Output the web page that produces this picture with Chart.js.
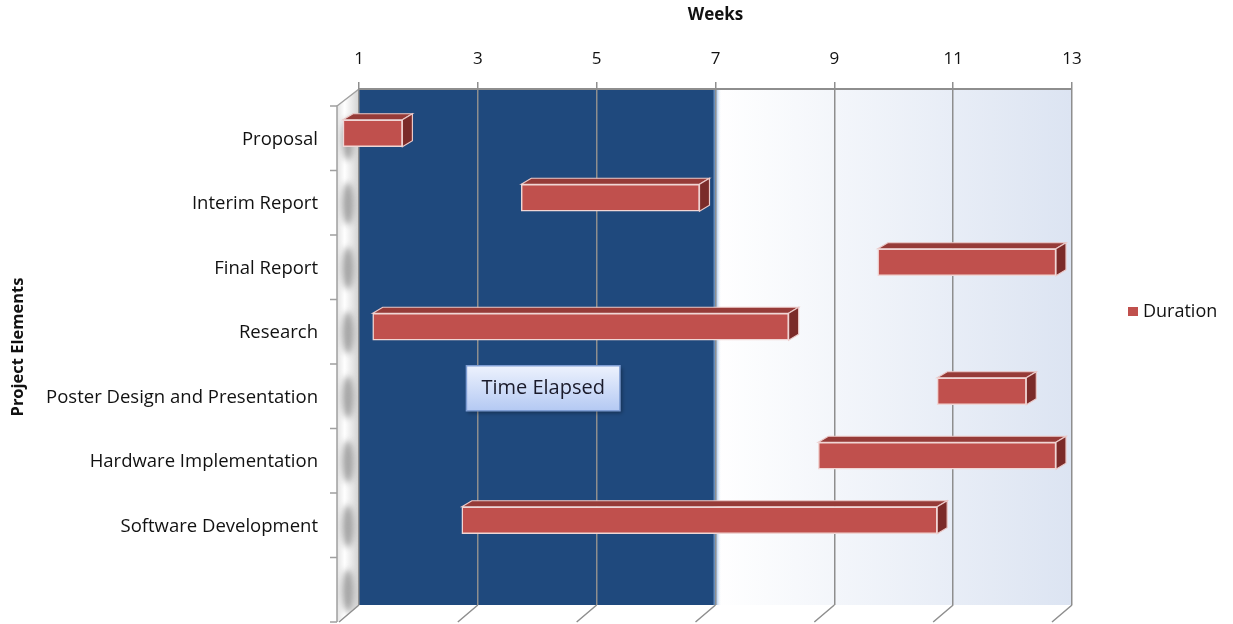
<!DOCTYPE html>
<html lang="en">
<head>
<meta charset="UTF-8">
<title>Project Schedule</title>
<style>
    * { margin: 0; padding: 0; box-sizing: border-box; }
    body { background: #fff; }
    #wrap { position: relative; width: 1233px; height: 624px; }
</style>
</head>
<body>
<div id="wrap"><canvas id="gantt"></canvas></div>

<script src="https://cdn.jsdelivr.net/npm/chart.js@4.4.0/dist/chart.umd.min.js"></script>
<script>
// data (weeks); last row of the axis is empty
const tasks = ['Proposal', 'Interim Report', 'Final Report', 'Research',
               'Poster Design and Presentation', 'Hardware Implementation', 'Software Development', ''];
const startWeek = [1, 4, 10, 1.5, 11, 9, 3];
const endWeek   = [2, 7, 13, 8.5, 12.5, 13, 11];
const weekTicks = [1, 3, 5, 7, 9, 11, 13];
const elapsedUntil = 7;
const seriesName = 'Duration';
const noteText = 'Time Elapsed';
const notePos = { week: 4.1, row: 4 };

const FONT = "'Open Sans', Lato, sans-serif";
const TEXT = '#111';
const GRID = '#8E8E8E';
const FRONT = { x: -22, y: 17 };   // front plane of the 3d box
const SHIFT = { x: -16, y: 12 };   // bars sit in front of the back wall
const DEPTH = { x: 10, y: -6 };    // bar thickness

Chart.defaults.font.family = FONT;
Chart.defaults.color = TEXT;

// back wall, left wall and floor
const backdrop = {
    id: 'backdrop',
    beforeDraw(chart) {
        const { ctx, chartArea: a, scales: { x, y } } = chart;
        const xe = x.getPixelForValue(elapsedUntil);
        const h = a.bottom - a.top;
        ctx.save();

        // elapsed part
        ctx.fillStyle = '#1F497D';
        ctx.fillRect(a.left, a.top, xe - a.left, h);
        // remaining part
        const g = ctx.createLinearGradient(xe, 0, a.right, 0);
        g.addColorStop(0, '#FFFFFF');
        g.addColorStop(1, '#DCE4F2');
        ctx.fillStyle = g;
        ctx.fillRect(xe, a.top, a.right - xe, h);
        // soft edge
        const gl = ctx.createLinearGradient(xe - 3, 0, xe + 6, 0);
        gl.addColorStop(0, 'rgba(31,73,125,1)');
        gl.addColorStop(0.35, '#8DB3E2');
        gl.addColorStop(1, 'rgba(255,255,255,0)');
        ctx.fillStyle = gl;
        ctx.fillRect(xe - 3, a.top, 9, h);

        // left wall
        const fx = a.left + FRONT.x;
        ctx.beginPath();
        ctx.moveTo(a.left, a.top);
        ctx.lineTo(a.left, a.bottom);
        ctx.lineTo(fx, a.bottom + FRONT.y);
        ctx.lineTo(fx, a.top + FRONT.y);
        ctx.closePath();
        const gw = ctx.createLinearGradient(fx, 0, a.left, 0);
        gw.addColorStop(0, '#E4E4E4');
        gw.addColorStop(0.35, '#FFFFFF');
        gw.addColorStop(1, '#D2D2D2');
        ctx.fillStyle = gw;
        ctx.fill();
        ctx.save();
        ctx.clip();
        ctx.filter = 'blur(3px)';
        ctx.fillStyle = '#A4A4A4';
        for (let i = 0; i < tasks.length; i++) {
            const cy = y.getPixelForValue(i) + FRONT.y + 1;
            ctx.beginPath();
            ctx.ellipse(a.left - 11, cy, 6, 21, 0, 0, Math.PI * 2);
            ctx.fill();
        }
        ctx.restore();

        ctx.strokeStyle = '#A0A0A0';
        ctx.lineWidth = 1.5;
        ctx.beginPath();
        ctx.moveTo(fx, a.bottom + FRONT.y);
        ctx.lineTo(fx, a.top + FRONT.y);
        ctx.lineTo(a.left, a.top);
        ctx.stroke();

        // category ticks on the front edge
        const band = h / tasks.length;
        ctx.beginPath();
        for (let i = 0; i <= tasks.length; i++) {
            const yb = a.top + i * band + FRONT.y;
            ctx.moveTo(fx - 7, yb);
            ctx.lineTo(fx, yb);
        }
        ctx.stroke();

        // floor ticks
        ctx.strokeStyle = GRID;
        ctx.beginPath();
        weekTicks.forEach(v => {
            const xp = x.getPixelForValue(v);
            ctx.moveTo(xp, a.bottom);
            ctx.lineTo(xp - 20, a.bottom + FRONT.y);
        });
        ctx.stroke();
        ctx.restore();
    }
};

// fake 3d bars: shift the bars forward and add top / side faces
const bars3d = {
    id: 'bars3d',
    beforeDatasetsDraw(chart) {
        const ctx = chart.ctx;
        ctx.save();
        ctx.translate(SHIFT.x, SHIFT.y);
        chart.getDatasetMeta(0).data.forEach(bar => {
            const p = bar.getProps(['x', 'y', 'base', 'height'], true);
            if (!isFinite(p.x) || !isFinite(p.base)) return;
            const l = Math.min(p.x, p.base), r = Math.max(p.x, p.base);
            const t = p.y - p.height / 2, b = p.y + p.height / 2;
            ctx.lineWidth = 1.2;
            ctx.strokeStyle = '#EBC9C8';
            ctx.beginPath();
            ctx.moveTo(l, t);
            ctx.lineTo(l + DEPTH.x, t + DEPTH.y);
            ctx.lineTo(r + DEPTH.x, t + DEPTH.y);
            ctx.lineTo(r, t);
            ctx.closePath();
            ctx.fillStyle = '#963B38';
            ctx.fill();
            ctx.stroke();
            ctx.beginPath();
            ctx.moveTo(r, t);
            ctx.lineTo(r + DEPTH.x, t + DEPTH.y);
            ctx.lineTo(r + DEPTH.x, b + DEPTH.y);
            ctx.lineTo(r, b);
            ctx.closePath();
            ctx.fillStyle = '#7B2B29';
            ctx.fill();
            ctx.stroke();
        });
    },
    afterDatasetsDraw(chart) {
        chart.ctx.restore();
    }
};

// text box and legend
const overlay = {
    id: 'overlay',
    afterDraw(chart) {
        const { ctx, chartArea: a, scales: { x, y } } = chart;
        ctx.save();

        ctx.font = '20px ' + FONT;
        const tw = ctx.measureText(noteText).width;
        const bw = tw + 30, bh = 45;
        const cx = x.getPixelForValue(notePos.week);
        const cy = y.getPixelForValue(notePos.row) + 9;
        const bx = cx - bw / 2, by = cy - bh / 2;
        const gb = ctx.createLinearGradient(0, by, 0, by + bh);
        gb.addColorStop(0, '#EDF2FD');
        gb.addColorStop(1, '#B4C9F3');
        ctx.shadowColor = 'rgba(0,0,0,0.35)';
        ctx.shadowBlur = 4;
        ctx.shadowOffsetX = 2;
        ctx.shadowOffsetY = 2;
        ctx.fillStyle = gb;
        ctx.fillRect(bx, by, bw, bh);
        ctx.shadowColor = 'transparent';
        ctx.strokeStyle = '#7E9DD3';
        ctx.lineWidth = 1.5;
        ctx.strokeRect(bx, by, bw, bh);
        ctx.fillStyle = '#1a1a2a';
        ctx.textAlign = 'center';
        ctx.textBaseline = 'middle';
        ctx.fillText(noteText, cx, cy);

        // legend
        const lx = a.right + 56, ly = (a.top + a.bottom) / 2 - 35;
        ctx.fillStyle = '#C0504D';
        ctx.fillRect(lx, ly - 5, 10, 9);
        ctx.font = '18px ' + FONT;
        ctx.fillStyle = TEXT;
        ctx.textAlign = 'left';
        ctx.fillText(seriesName, lx + 15, ly);
        ctx.restore();
    }
};

new Chart(document.getElementById('gantt'), {
    type: 'bar',
    data: {
        labels: tasks,
        datasets: [{
            label: seriesName,
            data: startWeek.map((s, i) => [s, endWeek[i]]),
            backgroundColor: '#C0504D',
            borderColor: '#F0D6D5',
            borderWidth: 1.5,
            borderSkipped: false,
            barThickness: 27,
            clip: false
        }]
    },
    options: {
        indexAxis: 'y',
        responsive: true,
        maintainAspectRatio: false,
        animation: false,
        layout: { padding: { left: 0, right: 161, top: 0, bottom: 19 } },
        plugins: {
            legend: { display: false },
            tooltip: { enabled: false }
        },
        scales: {
            x: {
                type: 'linear',
                position: 'top',
                min: 1,
                max: 13,
                afterBuildTicks: s => { s.ticks = weekTicks.map(v => ({ value: v })); },
                afterFit: s => { s.height = 89; },
                grid: { color: GRID, lineWidth: 1.5, tickLength: 7 },
                border: { color: GRID, width: 2 },
                ticks: { font: { size: 17 }, color: TEXT, padding: 13 },
                title: {
                    display: true, text: 'Weeks', color: TEXT,
                    font: { size: 17, weight: 'bold' },
                    padding: { top: 5, bottom: 0 }
                }
            },
            y: {
                afterFit: s => { s.width = 359; },
                // invisible tick marks give the gap between labels and the wall
                grid: { display: true, drawOnChartArea: false, drawTicks: true, tickLength: 41, color: 'rgba(0,0,0,0)' },
                border: { display: false },
                ticks: { font: { size: 18.5 }, color: TEXT, padding: 0, labelOffset: 18 },
                title: {
                    display: true, text: 'Project Elements', color: TEXT,
                    font: { size: 16.5, weight: 'bold' },
                    padding: { top: 8, bottom: 0 }
                }
            }
        }
    },
    plugins: [backdrop, bars3d, overlay]
});
</script>
</body>
</html>
